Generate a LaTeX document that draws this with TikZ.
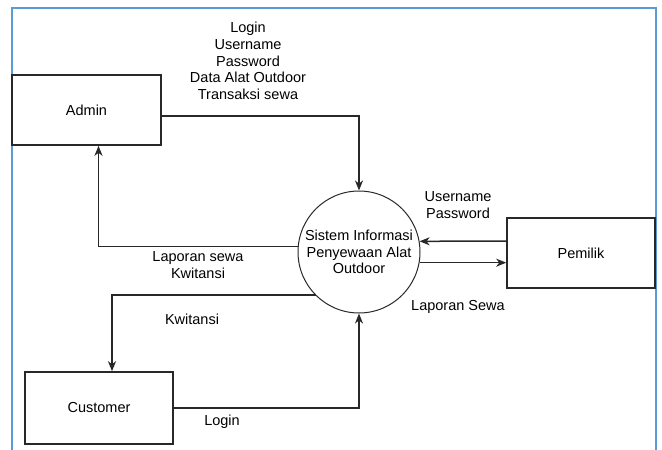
\documentclass[tikz,border=0pt]{standalone}
\usepackage{fontspec}
\setmainfont{Liberation Sans}
\usetikzlibrary{arrows.meta}
\definecolor{framblue}{RGB}{91,155,213}
\definecolor{linegray}{RGB}{40,40,40}
\begin{document}
\begin{tikzpicture}[x=1pt, y=-1pt,
		font=\fontsize{14.5}{16.8}\selectfont,
		entity/.style={draw=linegray, line width=1.6pt, rectangle, minimum width=148pt, minimum height=70pt, inner sep=0pt},
		proses/.style={draw=linegray, line width=1pt, circle, minimum size=122pt, inner sep=0pt, align=center},
		flow/.style={draw=linegray, line width=1.5pt, -{Stealth[length=10pt,width=8pt,inset=3pt]}},
		lbl/.style={align=center, inner sep=0pt}]
		% Frame
		\useasboundingbox (0,0) rectangle (662,450);
		\draw[framblue, line width=2pt] (12,452) -- (12,8) -- (656,8) -- (656,452);
		
		% Entities and process
		\node[entity, minimum width=149pt] (admin) at (86.5,110) {Admin};
		\node[entity, minimum height=72pt] (customer) at (99,408) {Customer};
		\node[entity] (pemilik) at (581,253) {Pemilik};
		\node[proses] (sistem) at (359,252) {Sistem Informasi\\Penyewaan Alat\\Outdoor};
		
		% Data flows
		\draw[flow, line width=2.2pt] ([yshift=-6pt]admin.east) -| (sistem.north);
		\draw[flow] (sistem.175) -| ([xshift=12pt]admin.south);
		\draw[flow, line width=2pt] (sistem.225) -| ([xshift=13pt]customer.north);
		\draw[flow, line width=2pt] (customer.east) -| (sistem.south);
		\draw[flow] ([yshift=12pt]pemilik.west) -- (sistem.10);
		\draw[flow] (sistem.-10) -- (sistem.-10 -| pemilik.west);
		
		% Labels
		\node[lbl] (lblAdmin) at (248,61) {Login\\Username\\Password\\Data Alat Outdoor\\Transaksi sewa};
		\node[lbl] (lblLaporan) at (198,265) {Laporan sewa\\Kwitansi};
		\node[lbl] (lblKwitansi) at (192,319) {Kwitansi};
		\node[lbl] (lblLogin) at (222,422) {Login};
		\node[lbl] (lblPemilik) at (458,205) {Username\\Password};
		\node[lbl] (lblSewa) at (458,307) {Laporan Sewa};
\end{tikzpicture}
\end{document}
